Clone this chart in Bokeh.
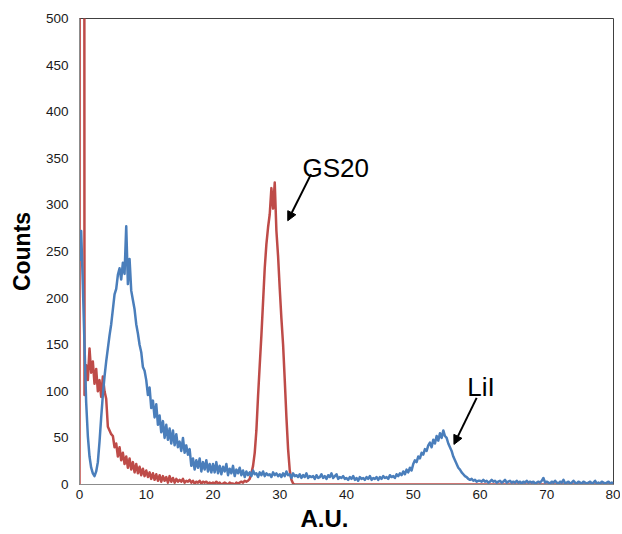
from bokeh.plotting import figure
from bokeh.models import Range1d, Label, Arrow, NormalHead, FixedTicker, Title
from bokeh.embed import file_html
from bokeh.resources import INLINE

# ---------------- data ----------------
step = 0.25  # A.U. spacing between samples, starting at 0

lii_counts = [
    240, 272, 215, 150, 88, 52, 30, 18, 12, 9, 14, 24, 46, 72, 96, 116, 132, 146, 160, 172,
    188, 204, 210, 225, 232, 220, 238, 226, 277, 215, 242, 208, 198, 188, 172, 162, 150, 142, 126, 122,
    112, 96, 104, 82, 90, 72, 86, 64, 74, 56, 68, 50, 64, 48, 60, 44, 58, 42, 54, 40,
    46, 36, 50, 34, 42, 32, 38, 20, 28, 16, 26, 18, 28, 14, 24, 16, 26, 14, 22, 13,
    22, 13, 24, 12, 20, 11, 19, 14, 22, 10, 17, 12, 20, 9, 16, 12, 18, 10, 15, 8,
    14, 10, 13, 9, 15, 11, 12, 8, 13, 10, 14, 9, 12, 10, 11, 8, 13, 10, 12, 9,
    11, 8, 12, 9, 14, 10, 11, 7, 12, 9, 10, 8, 11, 7, 10, 8, 12, 7, 9, 8,
    9, 6, 10, 7, 8, 11, 7, 9, 6, 10, 8, 12, 7, 9, 11, 6, 8, 7, 9, 6,
    7, 5, 8, 6, 9, 5, 7, 4, 8, 6, 7, 5, 8, 6, 9, 5, 7, 6, 8, 5,
    8, 6, 9, 7, 8, 6, 10, 8, 9, 7, 11, 9, 12, 10, 14, 11, 16, 13, 18, 15,
    22, 26, 24, 30, 28, 34, 32, 38, 36, 42, 45, 40, 48, 44, 52, 47, 55, 50, 58, 52,
    50, 44, 40, 36, 30, 26, 22, 18, 16, 13, 11, 9, 8, 6, 5, 6, 4, 5, 3, 4,
    4, 3, 5, 3, 4, 2, 3, 5, 3, 4, 2, 3, 4, 2, 3, 5, 2, 3, 4, 2,
    3, 2, 4, 2, 3, 1, 3, 2, 4, 2, 3, 2, 3, 1, 2, 3, 2, 4, 7, 2,
    3, 2, 1, 3, 2, 4, 2, 1, 3, 2, 5, 1, 2, 3, 1, 2, 4, 2, 1, 3,
    2, 1, 3, 2, 1, 2, 3, 1, 2, 4, 1, 2, 1, 3, 2, 1, 2, 3, 1, 2,
    1,
]

gs20_counts = [
    0, 5000, 5000, 96, 128, 112, 146, 120, 132, 108, 124, 100, 112, 94, 116, 100, 92, 62, 58, 54,
    52, 40, 44, 30, 40, 26, 34, 22, 30, 18, 28, 16, 24, 13, 22, 12, 19, 10, 17, 9,
    15, 8, 13, 6, 12, 5, 11, 4, 10, 3, 9, 4, 8, 2, 9, 3, 7, 2, 6, 3,
    5, 3, 6, 2, 4, 3, 5, 2, 4, 1, 3, 2, 4, 1, 3, 2, 3, 1, 2, 1,
    2, 1, 3, 1, 2, 0, 1, 2, 1, 0, 2, 1, 1, 0, 2, 1, 2, 3, 2, 4,
    3, 4, 6, 12, 20, 34, 58, 95, 128, 160, 196, 232, 258, 276, 290, 318, 296, 324, 272, 245,
    210, 178, 150, 112, 72, 38, 15, 5, 1, 0, 0, 0, 0, 0, 0, 0, 0, 0, 0, 0,
    0, 0, 0, 0, 0, 0, 0, 0, 0, 0, 0, 0, 0, 0, 0, 0, 0, 0, 0, 0,
    0, 0, 0, 0, 0, 0, 0, 0, 0, 0, 0, 0, 0, 0, 0, 0, 0, 0, 0, 0,
    0, 0, 0, 0, 0, 0, 0, 0, 0, 0, 0, 0, 0, 0, 0, 0, 0, 0, 0, 0,
    0, 0, 0, 0, 0, 0, 0, 0, 0, 0, 0, 0, 0, 0, 0, 0, 0, 0, 0, 0,
    0, 0, 0, 0, 0, 0, 0, 0, 0, 0, 0, 0, 0, 0, 0, 0, 0, 0, 0, 0,
    0, 0, 0, 0, 0, 0, 0, 0, 0, 0, 0, 0, 0, 0, 0, 0, 0, 0, 0, 0,
    0, 0, 0, 0, 0, 0, 0, 0, 0, 0, 0, 0, 0, 0, 0, 0, 0, 0, 0, 0,
    0, 0, 0, 0, 0, 0, 0, 0, 0, 0, 0, 0, 0, 0, 0, 0, 0, 0, 0, 0,
    0, 0, 0, 0, 0, 0, 0, 0, 0, 0, 0, 0, 0, 0, 0, 0, 0, 0, 0, 0,
    0,
]

x_ticks = [0, 10, 20, 30, 40, 50, 60, 70, 80]
y_ticks = [0, 50, 100, 150, 200, 250, 300, 350, 400, 450, 500]

x_label = "A.U."
y_label = "Counts"

# annotation: (text, text_x, text_y, arrow_x_start, arrow_y_start, arrow_x_end, arrow_y_end)
gs20_note = ("GS20", 33.4, 340, 34.7, 333, 31.2, 283)
lii_note = ("LiI", 58.1, 105, 59.5, 93, 56.1, 43)

x_lii = [i * step for i in range(len(lii_counts))]
x_gs20 = [i * step for i in range(len(gs20_counts))]

FONT = "Liberation Sans"
BLUE = "#4A7EBB"
RED = "#BE4B48"

p = figure(width=620, height=532, output_backend="svg", toolbar_location=None,
           x_range=Range1d(0, 80), y_range=Range1d(0, 500),
           min_border_left=79, min_border_right=7, min_border_top=18,
           min_border_bottom=8)

p.xgrid.visible = False
p.ygrid.visible = False
p.outline_line_color = "#404040"
p.outline_line_width = 1

p.line(x_gs20, gs20_counts, line_color=RED, line_width=2.5, line_join="round")
p.line(x_lii, lii_counts, line_color=BLUE, line_width=2.5, line_join="round")

for ax, ticks in ((p.xaxis[0], x_ticks), (p.yaxis[0], y_ticks)):
    ax.ticker = FixedTicker(ticks=ticks)
    ax.major_tick_out = 0
    ax.major_tick_in = 0
    ax.minor_tick_out = 0
    ax.minor_tick_in = 0
    ax.axis_line_color = "#8c8c8c"
    ax.axis_line_width = 1
    ax.major_label_text_font = FONT
    ax.major_label_text_font_size = "13.5px"
    ax.major_label_text_color = "#1a1a1a"

p.xaxis.major_label_standoff = 5
p.yaxis.major_label_standoff = 11

p.yaxis.axis_label = y_label
p.yaxis.axis_label_text_font = FONT
p.yaxis.axis_label_text_font_style = "bold"
p.yaxis.axis_label_text_font_size = "23px"
p.yaxis.axis_label_text_color = "black"
p.yaxis.axis_label_standoff = 8

xt = Title(text=x_label, align="left", offset=221, standoff=2,
           text_font=FONT, text_font_style="bold", text_font_size="24px",
           text_color="black")
p.add_layout(xt, "below")

for note in (gs20_note, lii_note):
    txt, tx, ty, xs, ys, xe, ye = note
    p.add_layout(Label(x=tx, y=ty, text=txt, text_align="left",
                       text_baseline="alphabetic", text_font=FONT,
                       text_font_size="26px", text_color="black"))
    p.add_layout(Arrow(end=NormalHead(size=9, fill_color="black", line_color="black"),
                       x_start=xs, y_start=ys, x_end=xe, y_end=ye,
                       line_color="black", line_width=2))

open("out.html", "w").write(file_html(p, INLINE))
